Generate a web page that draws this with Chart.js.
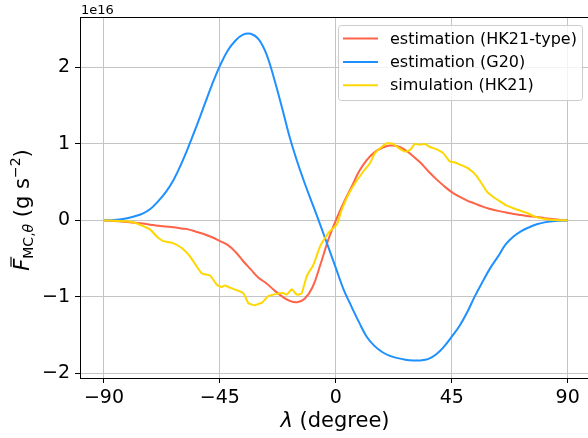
<!DOCTYPE html>
<html>
<head>
<meta charset="utf-8">
<script src="https://cdn.jsdelivr.net/npm/chart.js@4/dist/chart.umd.min.js"></script>
<style>
  html, body { margin: 0; padding: 0; background: #fff; }
  #wrap { width: 588px; height: 438px; }
</style>
</head>
<body>
<div id="wrap"><canvas id="chart" width="588" height="438"></canvas></div>
<script>
// latitude grid (degree) for the two estimations
const lat = [-90, -87, -84, -81, -78, -75, -72, -69, -66, -63, -60, -57, -54, -51, -48, -45, -42, -39, -36, -33,
    -30, -27, -24, -21, -18, -15, -12, -9, -6, -3, 0, 3, 6, 9, 12, 15, 18, 21, 24, 27,
    30, 33, 36, 39, 42, 45, 48, 51, 54, 57, 60, 63, 66, 69, 72, 75, 78, 81, 84, 87, 90];

// values in units of 1e16 g s^-2
const hk21Type = [0, -0.005, -0.012, -0.02, -0.03, -0.04, -0.055, -0.07, -0.08, -0.09, -0.105, -0.12, -0.15, -0.18, -0.22, -0.27, -0.32, -0.41, -0.53, -0.64,
    -0.75, -0.82, -0.91, -0.99, -1.05, -1.07, -1.02, -0.87, -0.58, -0.26, 0, 0.23, 0.43, 0.64, 0.79, 0.89, 0.95, 0.98, 0.97, 0.92,
    0.84, 0.75, 0.64, 0.54, 0.45, 0.37, 0.31, 0.26, 0.22, 0.18, 0.15, 0.125, 0.105, 0.085, 0.07, 0.055, 0.045, 0.03, 0.018, 0.007, 0];

const g20 = [0, 0.004, 0.012, 0.03, 0.055, 0.09, 0.15, 0.25, 0.37, 0.53, 0.74, 0.98, 1.24, 1.51, 1.78, 2.02, 2.22, 2.35, 2.43, 2.44,
    2.37, 2.18, 1.86, 1.49, 1.10, 0.77, 0.48, 0.21, -0.06, -0.34, -0.62, -0.90, -1.12, -1.33, -1.52, -1.64, -1.72, -1.77, -1.80, -1.82,
    -1.83, -1.83, -1.81, -1.75, -1.65, -1.52, -1.38, -1.20, -0.99, -0.80, -0.62, -0.47, -0.31, -0.21, -0.14, -0.09, -0.05, -0.025, -0.01, -0.003, 0];

// simulation is noisier, its own latitudes
const simLat = [-90, -86, -82, -79, -76, -72, -69.5, -67, -63.7, -59.8, -56.6, -52.1, -48.8, -46.2, -44.3, -43, -41.7, -38.5, -35.9, -34,
    -32.5, -31.4, -30, -28.8, -26.2, -23, -20.4, -19.1, -17.1, -15.5, -14.6, -13.2, -11.3, -8.7, -6.1, -4.2, -2.3, 0.35, 2.3, 4.9,
    7.5, 10.7, 13.3, 15.2, 17.8, 19.8, 22.3, 24.3, 26.9, 28.8, 30.7, 32.6, 34.6, 36.6, 39.2, 41.7, 44.3, 46, 48.2, 51.4,
    54.7, 58.6, 61, 63.7, 66, 68.9, 71.5, 74.1, 76.5, 79.3, 82, 85, 90];
const simHK21 = [0, -0.003, -0.01, -0.02, -0.056, -0.12, -0.21, -0.27, -0.29, -0.36, -0.47, -0.69, -0.72, -0.84, -0.87, -0.85, -0.87, -0.91, -0.95, -1.08,
    -1.10, -1.11, -1.09, -1.08, -0.99, -0.96, -0.95, -0.97, -0.90, -0.96, -0.97, -0.95, -0.73, -0.58, -0.34, -0.23, -0.14, -0.056, 0.14, 0.34,
    0.49, 0.64, 0.75, 0.88, 0.96, 1.01, 1.00, 0.95, 0.90, 0.92, 1.0, 0.99, 1.0, 0.96, 0.93, 0.88, 0.77, 0.76, 0.73, 0.68,
    0.58, 0.38, 0.31, 0.25, 0.20, 0.16, 0.13, 0.10, 0.06, 0.03, 0.015, 0.005, 0];

const xTicks = [-90, -45, 0, 45, 90];
const yTicks = [-2, -1, 0, 1, 2];
const seriesNames = ['estimation (HK21-type)', 'estimation (G20)', 'simulation (HK21)'];
const seriesColors = ['#ff6347', '#1e90ff', '#ffd700'];

const FONT = 'DejaVu Sans';

function pts(xs, ys) {
    return xs.map((x, i) => ({ x: x, y: ys[i] }));
}

function minus(v) {
    return String(v).replace('-', '\u2212');
}

// box, legend, offset text and axis labels like matplotlib
const decor = {
    id: 'decor',
    afterDatasetsDraw(chart) {
        const ctx = chart.ctx;
        const a = chart.chartArea;
        ctx.save();
        ctx.strokeStyle = '#000';
        ctx.lineWidth = 1;
        ctx.strokeRect(Math.round(a.left) + 0.5, Math.round(a.top) + 0.5, Math.round(a.right - a.left), Math.round(a.bottom - a.top));
        ctx.restore();
    },
    afterDraw(chart) {
        const ctx = chart.ctx;
        ctx.save();

        // legend
        const lx = 338, ly = 25, lw = 244, lh = 75;
        ctx.beginPath();
        ctx.roundRect(lx + 0.5, ly + 0.5, lw, lh, 3);
        ctx.fillStyle = 'rgba(255,255,255,0.8)';
        ctx.fill();
        ctx.strokeStyle = '#cccccc';
        ctx.lineWidth = 1;
        ctx.stroke();
        ctx.font = '16px "' + FONT + '"';
        ctx.textBaseline = 'middle';
        ctx.textAlign = 'left';
        chart.data.datasets.forEach((ds, i) => {
            const y = ly + 13.5 + i * 23.4;
            ctx.strokeStyle = ds.borderColor;
            ctx.lineWidth = 2;
            ctx.beginPath();
            ctx.moveTo(343, y);
            ctx.lineTo(378, y);
            ctx.stroke();
            ctx.fillStyle = '#000';
            ctx.fillText(ds.label, 390, y + 1);
        });

        // offset text
        ctx.font = '13px "' + FONT + '"';
        ctx.textBaseline = 'alphabetic';
        ctx.fillStyle = '#000';
        ctx.fillText('1e16', 81, 14);

        // x label
        ctx.font = 'italic 21px "' + FONT + '"';
        const w1 = ctx.measureText('\u03bb').width;
        ctx.font = '21px "' + FONT + '"';
        const w2 = ctx.measureText(' (degree)').width;
        let x0 = 335 - (w1 + w2) / 2;
        ctx.font = 'italic 21px "' + FONT + '"';
        ctx.fillText('\u03bb', x0, 427);
        ctx.font = '21px "' + FONT + '"';
        ctx.fillText(' (degree)', x0 + w1, 427);

        // y label, rotated
        const parts = [
            { t: 'F', f: 'italic 21px', dy: 0 },
            { t: 'MC,', f: '14px', dy: 4 },
            { t: '\u03b8', f: 'italic 14px', dy: 4 },
            { t: ' (g s', f: '21px', dy: 0 },
            { t: '\u22122', f: '14px', dy: -9 },
            { t: ')', f: '21px', dy: 0 }
        ];
        let total = 0;
        parts.forEach(p => {
            ctx.font = p.f + ' "' + FONT + '"';
            p.w = ctx.measureText(p.t).width;
            total += p.w;
        });
        ctx.translate(29, 210);
        ctx.rotate(-Math.PI / 2);
        let px = -total / 2;
        parts.forEach((p, i) => {
            ctx.font = p.f + ' "' + FONT + '"';
            ctx.fillText(p.t, px, p.dy);
            if (i === 0) {
                ctx.strokeStyle = '#000';
                ctx.lineWidth = 1.2;
                ctx.beginPath();
                ctx.moveTo(px + 4, -18);
                ctx.lineTo(px + p.w + 2, -18);
                ctx.stroke();
            }
            px += p.w;
        });
        ctx.restore();
    }
};

const ctx = document.getElementById('chart').getContext('2d');
new Chart(ctx, {
    type: 'line',
    data: {
        datasets: [
            { label: seriesNames[0], data: pts(lat, hk21Type), borderColor: seriesColors[0], order: 2, tension: 0.4 },
            { label: seriesNames[1], data: pts(lat, g20), borderColor: seriesColors[1], order: 1, tension: 0.4 },
            { label: seriesNames[2], data: pts(simLat, simHK21), borderColor: seriesColors[2], order: 0, tension: 0.15 }
        ]
    },
    options: {
        responsive: false,
        animation: false,
        events: [],
        datasets: { line: { borderWidth: 2, pointRadius: 0, fill: false } },
        layout: { padding: { top: 17, right: 0, left: 0, bottom: 0 } },
        plugins: { legend: { display: false }, tooltip: { enabled: false } },
        scales: {
            x: {
                type: 'linear',
                min: -99.3,
                max: 97.9,
                afterBuildTicks: s => { s.ticks = xTicks.map(v => ({ value: v })); },
                afterFit: s => { s.height = 60; },
                grid: { color: '#c4c4c4', lineWidth: 1, tickLength: 5, tickColor: '#000' },
                border: { display: false },
                ticks: { color: '#000', font: { family: FONT, size: 19 }, padding: 4, maxRotation: 0, callback: v => minus(v) }
            },
            y: {
                min: -2.06,
                max: 2.66,
                afterBuildTicks: s => { s.ticks = yTicks.map(v => ({ value: v })); },
                afterFit: s => { s.width = 80; },
                grid: { color: '#c4c4c4', lineWidth: 1, tickLength: 5, tickColor: '#000' },
                border: { display: false },
                ticks: { color: '#000', font: { family: FONT, size: 19 }, padding: 5, callback: v => minus(v) }
            }
        }
    },
    plugins: [decor]
});
</script>
</body>
</html>
